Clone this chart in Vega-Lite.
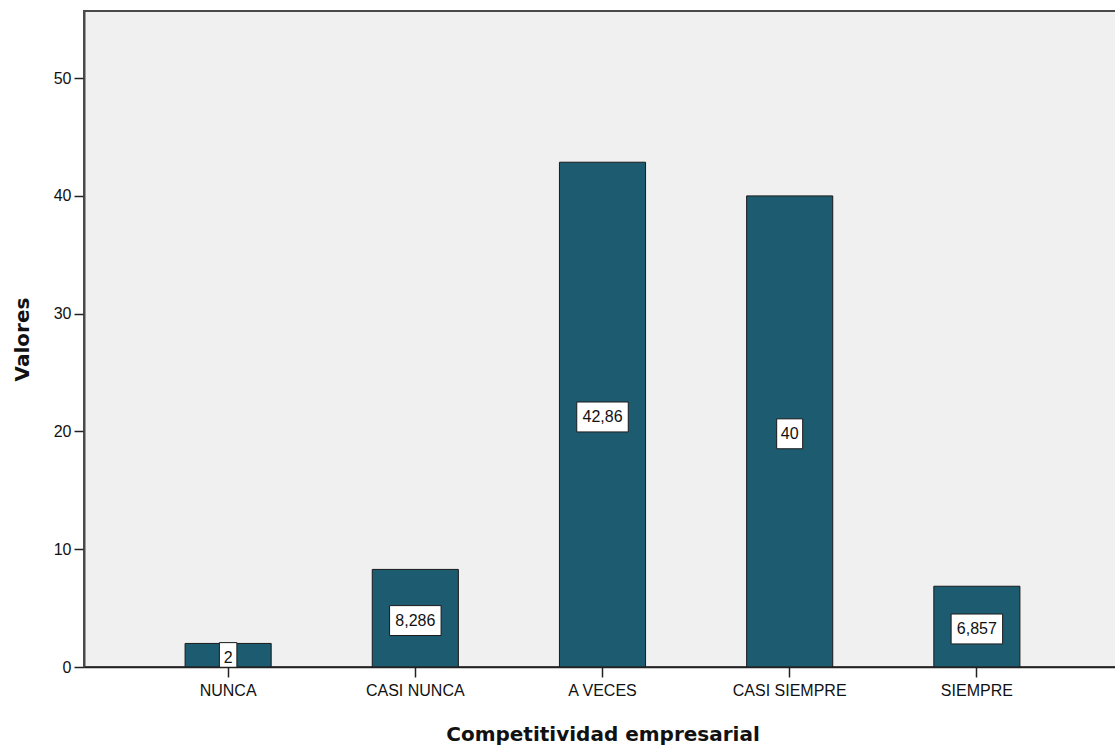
{
  "$schema": "https://vega.github.io/schema/vega-lite/v6.json",
  "width": 1037,
  "height": 656,
  "autosize": {"type": "none"},
  "padding": {"left": 84, "top": 11, "right": 0, "bottom": 80},
  "background": "white",
  "config": {
    "view": {"fill": "#f0f0f0", "stroke": "#4a4a4a", "strokeWidth": 2},
    "font": "Liberation Sans"
  },
  "data": {
    "values": [
      {"categoria": "NUNCA", "valor": 2, "etiqueta": "2"},
      {"categoria": "CASI NUNCA", "valor": 8.286, "etiqueta": "8,286"},
      {"categoria": "A VECES", "valor": 42.86, "etiqueta": "42,86"},
      {"categoria": "CASI SIEMPRE", "valor": 40, "etiqueta": "40"},
      {"categoria": "SIEMPRE", "valor": 6.857, "etiqueta": "6,857"}
    ]
  },
  "transform": [
    {"calculate": "datum.valor / 2 - 0.2", "as": "mid"},
    {"calculate": "datum.mid - 1.27", "as": "lo"},
    {"calculate": "datum.mid + 1.27", "as": "hi"},
    {"calculate": "length(datum.etiqueta) * 8.5 + 9", "as": "bw"}
  ],
  "encoding": {
    "x": {
      "field": "categoria",
      "type": "nominal",
      "sort": null,
      "scale": {"paddingInner": 0.54, "paddingOuter": 0.54},
      "axis": {
        "title": "Competitividad empresarial",
        "titleFont": "DejaVu Sans",
        "titleFontSize": 20,
        "titleFontWeight": "bold",
        "titleColor": "#111",
        "titlePadding": 26,
        "labelFontSize": 16,
        "labelColor": "#111",
        "labelAngle": 0,
        "labelPadding": 5,
        "tickSize": 10,
        "tickColor": "#222",
        "tickWidth": 1.5,
        "domainColor": "#222",
        "domainWidth": 1.5,
        "zindex": 1
      }
    }
  },
  "layer": [
    {
      "mark": {"type": "bar", "fill": "#1d5b71", "stroke": "#1a1a1a", "strokeWidth": 1},
      "encoding": {
        "y": {
          "field": "valor",
          "type": "quantitative",
          "scale": {"domain": [0, 55.7], "nice": false, "zero": true},
          "axis": {
            "title": "Valores",
            "titleFont": "DejaVu Sans",
            "titleFontSize": 20,
            "titleFontWeight": "bold",
            "titleColor": "#111",
            "titlePadding": 21,
            "values": [0, 10, 20, 30, 40, 50],
            "grid": false,
            "labelFontSize": 16,
            "labelColor": "#111",
            "labelPadding": 3,
            "tickSize": 10,
            "tickColor": "#222",
            "tickWidth": 1.5,
            "domainColor": "#4a4a4a",
            "domainWidth": 2
          }
        }
      }
    },
    {
      "mark": {"type": "bar", "fill": "white", "stroke": "#1a1a1a", "strokeWidth": 1, "clip": true},
      "encoding": {
        "y": {"field": "lo", "type": "quantitative"},
        "y2": {"field": "hi"},
        "size": {"field": "bw", "type": "quantitative", "scale": null, "legend": null}
      }
    },
    {
      "mark": {"type": "text", "fontSize": 16, "color": "#111", "baseline": "middle", "align": "center"},
      "encoding": {
        "y": {"field": "mid", "type": "quantitative"},
        "text": {"field": "etiqueta", "type": "nominal"}
      }
    }
  ]
}
